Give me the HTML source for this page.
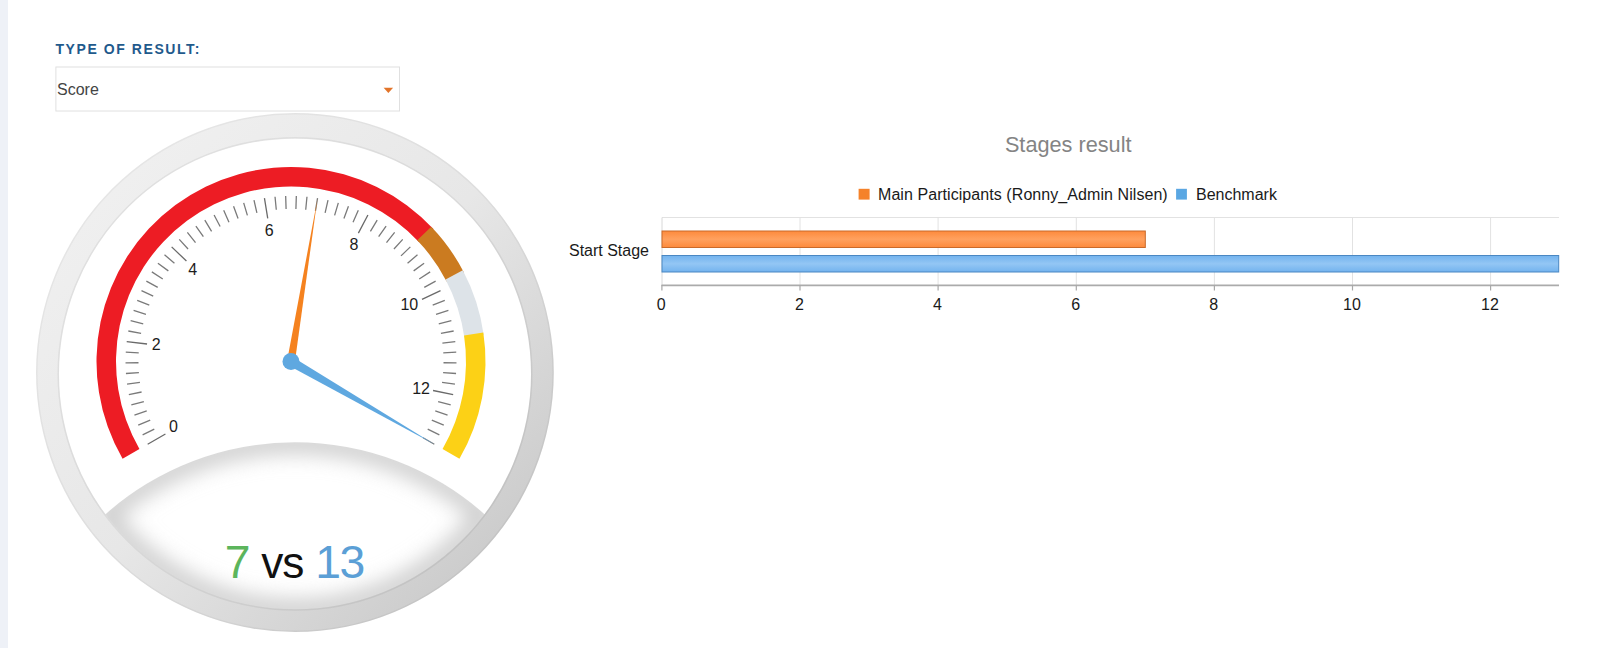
<!DOCTYPE html>
<html lang="en"><head><meta charset="utf-8"><title>Stages result</title>
<style>
html,body{margin:0;padding:0;background:#fff;}
body{width:1600px;height:648px;position:relative;overflow:hidden;font-family:"Liberation Sans",sans-serif;}
.strip{position:absolute;left:0;top:0;width:8px;height:648px;background:#eef1f7;}
.lbl{position:absolute;left:55.5px;top:40px;font-size:14px;line-height:18px;font-weight:bold;letter-spacing:1.57px;color:#1f5a8c;white-space:nowrap;}
.sel{position:absolute;left:55px;top:66.4px;width:343px;height:43px;border:1px solid transparent;box-sizing:content-box;}
.sel span{position:absolute;left:1px;top:0.6px;line-height:43px;font-size:16px;color:#444;}
svg{position:absolute;left:0;top:0;}
svg text{font-family:"Liberation Sans",sans-serif;}
</style></head><body>
<div class="strip"></div>
<div class="lbl">TYPE OF RESULT:</div>
<div class="sel"><span>Score</span></div>
<svg width="1600" height="648" viewBox="0 0 1600 648">
<defs>
<linearGradient id="ring" x1="0.15" y1="0.15" x2="0.85" y2="0.85">
<stop offset="0" stop-color="#efefef"/><stop offset="0.5" stop-color="#e7e7e7"/><stop offset="1" stop-color="#cdcdcd"/>
</linearGradient>
<clipPath id="lensclip"><path d="M104.94 514.69A285.7 285.7 0 0 1 485.06 514.69A236.5 236.5 0 0 1 104.94 514.69Z"/></clipPath>
<filter id="blur" x="-20%" y="-20%" width="140%" height="140%"><feGaussianBlur stdDeviation="10"/></filter>
<linearGradient id="gor" x1="0" y1="0" x2="0" y2="1">
<stop offset="0" stop-color="#fd8a3c"/><stop offset="0.5" stop-color="#ffa15f"/><stop offset="1" stop-color="#fd8a3c"/>
</linearGradient>
<linearGradient id="gbl" x1="0" y1="0" x2="0" y2="1">
<stop offset="0" stop-color="#73b3ee"/><stop offset="0.5" stop-color="#93c6f4"/><stop offset="1" stop-color="#73b3ee"/>
</linearGradient>
</defs>
<rect x="55.9" y="67.0" width="343.6" height="44.0" fill="none" stroke="#e0e0e0" stroke-width="1"/>
<path d="M383.6 87.7H393.1L388.35 93.1Z" fill="#e2742a"/>
<!-- lens -->
<path d="M104.94 514.69A285.7 285.7 0 0 1 485.06 514.69A236.5 236.5 0 0 1 104.94 514.69Z" fill="#fff"/>
<g clip-path="url(#lensclip)"><path d="M104.94 514.69A285.7 285.7 0 0 1 485.06 514.69A236.5 236.5 0 0 1 104.94 514.69Z" fill="none" stroke="#d0d0d0" stroke-width="24" filter="url(#blur)"/></g>
<!-- outer ring -->
<path d="M36.00 372.55A258.9 259.55 0 1 1 553.80 372.55A258.9 259.55 0 1 1 36.00 372.55ZM59.00 373.95A236.0 235.3 0 1 0 531.00 373.95A236.0 235.3 0 1 0 59.00 373.95Z" fill="url(#ring)" fill-rule="evenodd"/>
<ellipse cx="294.9" cy="372.55" rx="258.10" ry="258.75" fill="none" stroke="#000" stroke-opacity="0.04" stroke-width="1.5"/>
<ellipse cx="295.0" cy="373.95" rx="236.80" ry="236.10" fill="none" stroke="#000" stroke-opacity="0.06" stroke-width="1.5"/>
<!-- gauge -->
<path d="M122.56 458.75A194.5 194.5 0 0 1 433.43 229.04L419.15 242.32A175.0 175.0 0 0 0 139.45 449.00Z" fill="#ed1c24"/>
<path d="M431.27 226.77A194.5 194.5 0 0 1 463.94 272.50L446.60 281.42A175.0 175.0 0 0 0 417.21 240.27Z" fill="#cb7b20"/>
<path d="M462.78 270.28A194.5 194.5 0 0 1 483.68 334.95L464.36 337.61A175.0 175.0 0 0 0 445.56 279.43Z" fill="#dde3e8"/>
<path d="M483.32 332.47A194.5 194.5 0 0 1 459.44 458.75L442.55 449.00A175.0 175.0 0 0 0 464.04 335.38Z" fill="#fcd116"/>
<path d="M142.64 434.85L154.29 429.09M138.23 425.14L150.23 420.14M134.44 415.17L146.74 410.96M131.31 404.98L143.86 401.56M128.84 394.60L141.58 392.00M127.05 384.09L139.93 382.32M125.93 373.49L138.90 372.55M125.51 362.83L138.50 362.73M125.76 352.17L138.74 352.91M128.33 331.01L141.11 333.41M130.63 320.60L143.23 323.81M133.60 310.36L145.96 314.37M137.22 300.33L149.30 305.13M141.48 290.55L153.22 296.12M146.36 281.07L157.72 287.39M151.84 271.92L162.77 278.96M157.90 263.15L168.35 270.87M164.51 254.78L174.44 263.16M179.27 239.41L188.05 249.00M187.37 232.46L195.51 242.60M195.89 226.06L203.36 236.70M204.81 220.21L211.58 231.31M214.09 214.96L220.13 226.47M223.69 210.31L228.97 222.18M233.56 206.29L238.07 218.48M243.68 202.91L247.39 215.37M253.99 200.19L256.89 212.86M275.03 196.77L276.28 209.71M285.67 196.09L286.09 209.08M296.33 196.09L295.91 209.08M306.97 196.77L305.72 209.71M317.55 198.14L315.46 210.97M328.01 200.19L325.11 212.86M338.32 202.91L334.61 215.37M348.44 206.29L343.93 218.48M358.31 210.31L353.03 222.18M377.19 220.21L370.42 231.31M386.11 226.06L378.64 236.70M394.63 232.46L386.49 242.60M402.73 239.41L393.95 249.00M410.36 246.85L400.98 255.86M417.49 254.78L407.56 263.16M424.10 263.15L413.65 270.87M430.16 271.92L419.23 278.96M435.64 281.07L424.28 287.39M444.78 300.33L432.70 305.13M448.40 310.36L436.04 314.37M451.37 320.60L438.77 323.81M453.67 331.01L440.89 333.41M455.29 341.55L442.39 343.12M456.24 352.17L443.26 352.91M456.49 362.83L443.50 362.73M456.07 373.49L443.10 372.55M454.95 384.09L442.07 382.32M450.69 404.98L438.14 401.56M447.56 415.17L435.26 410.96M443.77 425.14L431.77 420.14M439.36 434.85L427.71 429.09M434.33 444.25L423.07 437.75" stroke="#7a7a7a" stroke-width="1.3" fill="none"/>
<path d="M147.67 444.25L165.43 434.00M126.71 341.55L147.06 344.02M171.64 246.85L186.43 261.05M264.45 198.14L267.74 218.38M367.91 214.96L358.38 233.11M440.52 290.55L422.00 299.34M453.16 394.60L433.07 390.50" stroke="#6a6a6a" stroke-width="1.3" fill="none"/>
<text x="173.4" y="432.1" text-anchor="middle" font-size="16" fill="#1c1c1c">0</text>
<text x="156.3" y="350.4" text-anchor="middle" font-size="16" fill="#1c1c1c">2</text>
<text x="192.8" y="274.6" text-anchor="middle" font-size="16" fill="#1c1c1c">4</text>
<text x="269.1" y="236.3" text-anchor="middle" font-size="16" fill="#1c1c1c">6</text>
<text x="354.0" y="250.3" text-anchor="middle" font-size="16" fill="#1c1c1c">8</text>
<text x="409.3" y="310.1" text-anchor="middle" font-size="16" fill="#1c1c1c">10</text>
<text x="421.1" y="393.6" text-anchor="middle" font-size="16" fill="#1c1c1c">12</text>
<path d="M294.85 362.13L317.47 198.64L287.15 360.87Z" fill="#f5821f"/>
<path d="M288.62 365.61L434.76 444.50L293.38 357.39Z" fill="#5fa8e0"/>
<circle cx="291.0" cy="361.5" r="8.5" fill="#5fa8e0"/>
<!-- big text -->
<text id="t7" x="224.8" y="577.6" font-size="46.3" fill="#5cb55c">7</text>
<text id="tvs" x="261.2" y="577.6" font-size="44.2" letter-spacing="-1" fill="#111">vs</text>
<text id="t13" x="315.3" y="577.6" font-size="46.3" letter-spacing="-1.6" fill="#5b9fd6">13</text>
<!-- chart -->
<text x="1068.2" y="152.1" text-anchor="middle" font-size="21.7" fill="#848484">Stages result</text>
<rect x="858.6" y="188.8" width="11" height="10.8" fill="#f5822a"/>
<text x="878" y="199.6" font-size="16" textLength="289.7" lengthAdjust="spacing" fill="#1a1a1a">Main Participants (Ronny_Admin Nilsen)</text>
<rect x="1176.1" y="188.8" width="10.8" height="10.8" fill="#5aa7e3"/>
<text x="1196" y="199.6" font-size="16" fill="#1a1a1a">Benchmark</text>
<path d="M662 217.5H1559" stroke="#e2e2e2" stroke-width="1" fill="none"/>
<path d="M662 217.5V285" stroke="#d8d8d8" stroke-width="1" fill="none"/>
<path d="M800.0 217.5V285M938.1 217.5V285M1076.3 217.5V285M1214.4 217.5V285M1352.5 217.5V285M1490.6 217.5V285" stroke="#e2e2e2" stroke-width="1" fill="none"/>
<rect x="662" y="231" width="483.3" height="16.5" fill="url(#gor)" stroke="#c96a2a" stroke-width="1"/>
<rect x="662" y="255.5" width="896.7" height="16.5" fill="url(#gbl)" stroke="#4a87c2" stroke-width="1"/>
<path d="M661.5 285.3H1559" stroke="#ababab" stroke-width="1.8" fill="none"/>
<path d="M661.9 285V290.5M800.0 285V290.5M938.1 285V290.5M1076.3 285V290.5M1214.4 285V290.5M1352.5 285V290.5M1490.6 285V290.5" stroke="#a8a8a8" stroke-width="1.2" fill="none"/>
<g font-size="16" fill="#1a1a1a"><text x="661.3" y="309.6" text-anchor="middle">0</text><text x="799.4" y="309.6" text-anchor="middle">2</text><text x="937.5" y="309.6" text-anchor="middle">4</text><text x="1075.7" y="309.6" text-anchor="middle">6</text><text x="1213.8" y="309.6" text-anchor="middle">8</text><text x="1351.9" y="309.6" text-anchor="middle">10</text><text x="1490.0" y="309.6" text-anchor="middle">12</text></g>
<text x="649" y="256" text-anchor="end" font-size="16" fill="#1a1a1a">Start Stage</text>
</svg>
</body></html>
